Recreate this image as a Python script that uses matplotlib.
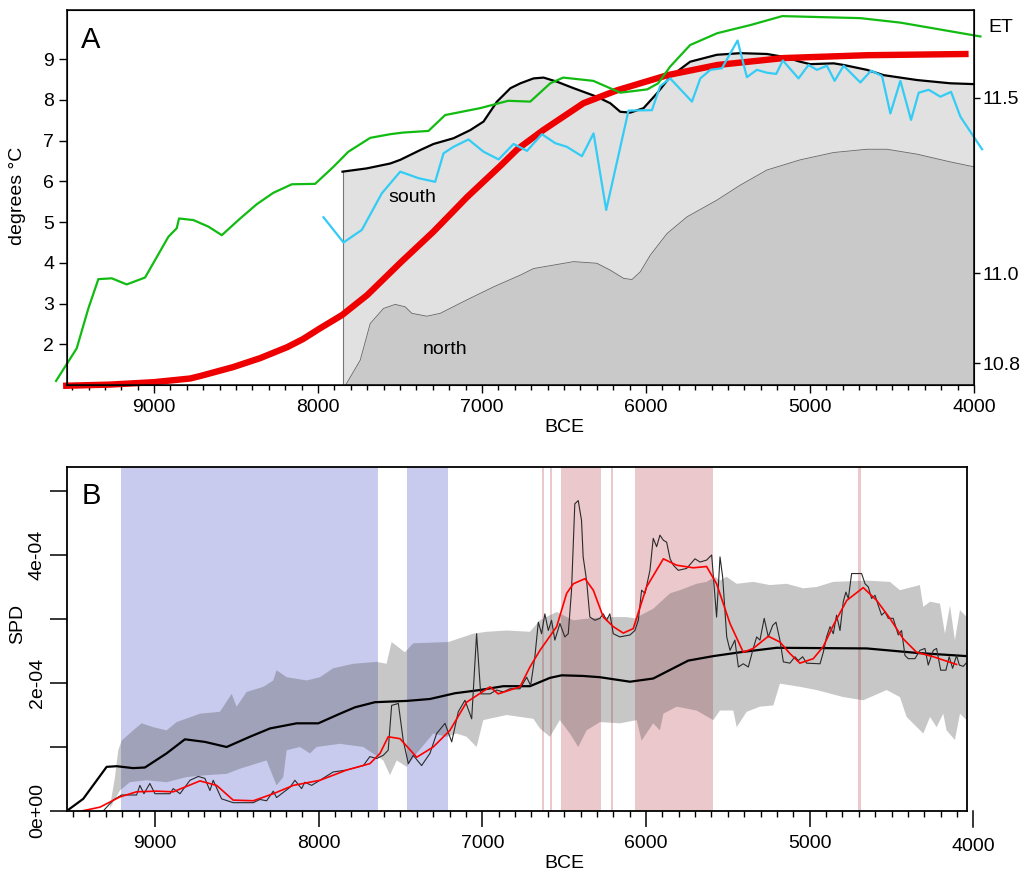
import matplotlib.pyplot as plt
import numpy as np

plt.rcParams['font.family'] = ['Liberation Sans', 'DejaVu Sans']
plt.rcParams['font.size'] = 14

# ---------------- Panel A: temperature reconstructions ----------------
green_yr = [9598, 9472, 9401, 9340, 9258, 9167, 9055, 8913, 8862, 8848, 8760, 8669, 8587,
            8475, 8374, 8273, 8160, 8018, 7906, 7815, 7682, 7560, 7481, 7327, 7225, 7011,
            6841, 6706, 6584, 6505, 6322, 6157, 5993, 5926, 5853, 5731, 5566, 5364, 5169,
            4693, 4449, 3961]
green_t = [1.10, 1.90, 2.88, 3.60, 3.62, 3.47, 3.64, 4.64, 4.85, 5.09, 5.05, 4.89, 4.68,
           5.09, 5.44, 5.72, 5.93, 5.94, 6.36, 6.73, 7.07, 7.16, 7.20, 7.24, 7.63, 7.80,
           7.98, 7.96, 8.41, 8.55, 8.47, 8.18, 8.26, 8.41, 8.82, 9.35, 9.64, 9.84, 10.06,
           10.01, 9.90, 9.56]

south_yr = [7851, 7703, 7560, 7499, 7377, 7296, 7174, 7072, 6991, 6909, 6827, 6766, 6686,
            6625, 6544, 6442, 6300, 6218, 6157, 6096, 6015, 5934, 5853, 5731, 5568, 5425,
            5263, 5161, 5060, 4999, 4856, 4795, 4653, 4551, 4348, 4145, 4002]
south_t = [6.24, 6.32, 6.44, 6.53, 6.77, 6.92, 7.06, 7.26, 7.47, 7.96, 8.29, 8.41, 8.53,
           8.55, 8.45, 8.29, 8.08, 7.92, 7.71, 7.69, 7.80, 8.16, 8.57, 8.94, 9.11, 9.15,
           9.13, 9.06, 8.94, 8.88, 8.90, 8.86, 8.74, 8.61, 8.49, 8.41, 8.39]

north_yr = [7832, 7743, 7682, 7601, 7530, 7469, 7428, 7337, 7255, 7093, 6930, 6766, 6686,
            6442, 6300, 6218, 6137, 6086, 6035, 5974, 5872, 5750, 5568, 5425, 5263, 5060,
            4856, 4653, 4531, 4348, 4145, 4002]
north_t = [1.00, 1.61, 2.51, 2.88, 2.98, 2.92, 2.76, 2.69, 2.76, 3.09, 3.41, 3.70, 3.86,
           4.03, 3.99, 3.82, 3.62, 3.59, 3.78, 4.19, 4.72, 5.13, 5.54, 5.91, 6.28, 6.53,
           6.71, 6.79, 6.79, 6.67, 6.48, 6.36]

cyan_yr = [7967, 7845, 7733, 7611, 7499, 7388, 7286, 7235, 7174, 7083, 6991, 6899, 6808,
           6726, 6635, 6554, 6483, 6391, 6320, 6243, 6107, 5964, 5914, 5853, 5720, 5669,
           5608, 5537, 5442, 5385, 5324, 5263, 5206, 5166, 5070, 5009, 4958, 4897, 4850,
           4795, 4693, 4628, 4561, 4510, 4449, 4384, 4337, 4276, 4205, 4140, 4083, 3951]
cyan_t = [5.12, 4.50, 4.81, 5.71, 6.24, 6.08, 5.99, 6.69, 6.85, 7.03, 6.73, 6.54, 6.92,
          6.75, 7.16, 6.94, 6.85, 6.62, 7.18, 5.30, 7.74, 7.75, 8.34, 8.53, 7.96, 8.53,
          8.74, 8.78, 9.46, 8.56, 8.74, 8.67, 8.64, 8.97, 8.53, 8.86, 8.74, 8.84, 8.47,
          8.84, 8.43, 8.72, 8.59, 7.67, 8.47, 7.51, 8.18, 8.25, 8.08, 8.20, 7.59, 6.79]

et_yr = [9555, 9268, 9000, 8780, 8719, 8518, 8353, 8188, 8091, 7993, 7853, 7700, 7499,
         7298, 7090, 6889, 6785, 6627, 6382, 6175, 5869, 5564, 5161, 4649, 4033]
et_t = [0.98, 1.01, 1.07, 1.16, 1.22, 1.44, 1.66, 1.93, 2.13, 2.38, 2.72, 3.21, 4.00,
        4.76, 5.62, 6.38, 6.79, 7.26, 7.92, 8.24, 8.61, 8.86, 9.03, 9.10, 9.13]

# right-hand ET scale (non-linear), tick positions in °C units of left axis
et_ticks = ['10.8', '11.0', '11.5']
et_pos = [1.53, 3.74, 8.06]

# ---------------- Panel B: SPD ----------------
blue_spans = [(9210, 7636), (7459, 7212)]
red_spans = [(6638, 6626), (6587, 6575), (6520, 6278), (6214, 6202), (6070, 5593), (4707, 4687)]

env_up_yr = [9275, 9244, 9224, 9203, 9133, 9081, 9010, 8929, 8867, 8725, 8603, 8531, 8501,
             8440, 8338, 8277, 8257, 8195, 8073, 7992, 7911, 7789, 7646, 7585, 7554, 7473,
             7422, 7208, 7055, 6974, 6851, 6709, 6648, 6546, 6444, 6343, 6241, 6118, 6068,
             5956, 5854, 5793, 5691, 5630, 5579, 5548, 5508, 5446, 5345, 5243, 5141, 5040,
             4958, 4856, 4653, 4510, 4449, 4327, 4306, 4265, 4204, 4174, 4143, 4113, 4082, 4041]
env_up = [0.06, 0.53, 0.95, 1.10, 1.26, 1.37, 1.31, 1.26, 1.39, 1.52, 1.55, 1.83, 1.63,
          1.86, 1.94, 2.04, 2.20, 2.09, 2.04, 2.09, 2.23, 2.30, 2.33, 2.30, 2.64, 2.48,
          2.62, 2.64, 2.77, 2.80, 2.82, 2.80, 2.98, 3.11, 2.98, 3.01, 3.03, 3.03, 3.01,
          3.16, 3.40, 3.45, 3.55, 3.58, 3.66, 3.60, 3.66, 3.55, 3.58, 3.53, 3.55, 3.48,
          3.50, 3.58, 3.60, 3.58, 3.45, 3.53, 3.19, 3.27, 3.24, 2.77, 3.21, 2.67, 3.14, 3.03]

env_lo_yr = [9275, 9214, 9153, 9051, 8929, 8806, 8684, 8562, 8481, 8318, 8257, 8216, 8195,
             8114, 8053, 8012, 7870, 7727, 7605, 7564, 7523, 7462, 7401, 7300, 7218, 7157,
             7096, 7035, 6994, 6851, 6688, 6648, 6587, 6526, 6465, 6414, 6363, 6281, 6160,
             6057, 6027, 5956, 5915, 5894, 5813, 5691, 5589, 5548, 5467, 5446, 5385, 5304,
             5222, 5182, 5060, 4958, 4795, 4673, 4530, 4449, 4408, 4306, 4265, 4225, 4184,
             4164, 4113, 4082, 4041]
env_lo = [0.04, 0.32, 0.45, 0.48, 0.45, 0.53, 0.56, 0.58, 0.66, 0.79, 0.40, 0.53, 0.95,
          1.00, 0.90, 1.00, 1.05, 1.00, 0.79, 0.56, 0.79, 0.69, 0.90, 1.21, 1.16, 1.21,
          1.16, 1.00, 1.42, 1.50, 1.44, 1.29, 1.16, 1.42, 1.21, 1.00, 1.26, 1.39, 1.37,
          1.42, 1.10, 1.37, 1.26, 1.52, 1.63, 1.57, 1.42, 1.57, 1.57, 1.31, 1.55, 1.63,
          1.65, 1.99, 1.94, 1.89, 1.78, 1.73, 1.89, 1.78, 1.47, 1.21, 1.47, 1.31, 1.52,
          1.26, 1.11, 1.52, 1.42]

null_yr = [9539, 9438, 9295, 9234, 9133, 9061, 8929, 8817, 8695, 8562, 8420, 8297, 8134,
           8002, 7870, 7778, 7656, 7462, 7320, 7167, 7015, 6872, 6709, 6587, 6515, 6384,
           6281, 6098, 5956, 5742, 5589, 5426, 5202, 4652, 4347, 4041]
null_mean = [0.00, 0.19, 0.69, 0.70, 0.67, 0.68, 0.90, 1.12, 1.08, 1.00, 1.16, 1.29, 1.37,
             1.37, 1.52, 1.62, 1.70, 1.72, 1.75, 1.84, 1.89, 1.95, 1.95, 2.08, 2.12, 2.11,
             2.09, 2.02, 2.07, 2.35, 2.42, 2.48, 2.55, 2.54, 2.47, 2.42]

spd_yr = [9316, 9255, 9204, 9112, 9092, 9067, 9031, 9000, 8908, 8888, 8847, 8786, 8735,
          8695, 8664, 8644, 8593, 8522, 8399, 8359, 8318, 8277, 8257, 8175, 8145, 8104,
          8084, 8043, 7992, 7911, 7829, 7727, 7687, 7646, 7605, 7575, 7554, 7513, 7483,
          7452, 7422, 7371, 7320, 7279, 7228, 7187, 7147, 7106, 7065, 7035, 7010, 6953,
          6913, 6872, 6831, 6770, 6729, 6705, 6679, 6658, 6638, 6618, 6597, 6577, 6557,
          6526, 6496, 6475, 6455, 6435, 6414, 6394, 6384, 6363, 6343, 6312, 6282, 6261,
          6241, 6221, 6200, 6160, 6098, 6068, 6047, 6027, 6006, 5976, 5956, 5935, 5915,
          5894, 5874, 5853, 5833, 5803, 5752, 5701, 5670, 5630, 5599, 5579, 5569, 5548,
          5532, 5507, 5487, 5457, 5436, 5406, 5375, 5345, 5324, 5304, 5278, 5253, 5226,
          5206, 5182, 5161, 5121, 5090, 5070, 5043, 5019, 4937, 4917, 4897, 4876, 4856,
          4836, 4815, 4795, 4779, 4764, 4744, 4683, 4662, 4642, 4622, 4601, 4581, 4561,
          4540, 4520, 4490, 4459, 4439, 4418, 4398, 4357, 4327, 4296, 4276, 4245, 4225,
          4200, 4168, 4148, 4127, 4103, 4086, 4062, 4041]
spd = [0.00, 0.17, 0.25, 0.25, 0.40, 0.27, 0.43, 0.27, 0.27, 0.35, 0.27, 0.48, 0.54,
       0.51, 0.32, 0.48, 0.19, 0.13, 0.13, 0.18, 0.16, 0.31, 0.21, 0.37, 0.48, 0.35,
       0.45, 0.40, 0.48, 0.61, 0.64, 0.71, 0.85, 0.82, 0.87, 0.95, 1.65, 1.68, 1.10,
       0.74, 0.87, 0.71, 0.90, 1.21, 1.37, 1.08, 1.55, 1.73, 1.44, 2.77, 1.83, 1.83,
       1.89, 1.86, 1.91, 1.91, 2.09, 1.96, 2.41, 2.95, 2.77, 3.08, 2.82, 2.98, 2.67,
       2.93, 2.72, 2.77, 3.45, 4.80, 4.85, 4.54, 3.97, 3.60, 3.03, 2.98, 3.01, 3.08,
       2.98, 3.08, 2.77, 2.72, 2.75, 2.82, 2.98, 3.45, 3.40, 3.76, 4.26, 4.13, 4.31,
       4.23, 4.20, 3.94, 3.84, 3.76, 3.79, 3.94, 3.89, 3.92, 4.00, 3.34, 3.03, 3.97,
       3.66, 2.72, 2.51, 2.67, 2.25, 2.30, 2.25, 2.54, 2.72, 2.67, 3.01, 2.72, 2.90,
       2.95, 2.67, 2.33, 2.31, 2.41, 2.35, 2.41, 2.31, 2.30, 2.48, 2.72, 2.88, 2.77,
       3.06, 2.82, 3.27, 3.42, 3.32, 3.71, 3.71, 3.55, 3.50, 3.32, 3.37, 3.21, 3.06,
       3.11, 3.01, 3.01, 2.75, 2.82, 2.43, 2.38, 2.38, 2.51, 2.54, 2.28, 2.51, 2.54,
       2.20, 2.20, 2.41, 2.23, 2.43, 2.28, 2.26, 2.32]

smooth_yr = [9448, 9336, 9214, 9112, 8990, 8888, 8725, 8623, 8522, 8399, 8277, 8155, 7992,
             7829, 7687, 7625, 7575, 7503, 7401, 7300, 7198, 7096, 6953, 6903, 6770, 6709,
             6648, 6546, 6485, 6444, 6373, 6322, 6261, 6200, 6139, 6078, 5997, 5894, 5813,
             5711, 5630, 5569, 5487, 5406, 5345, 5253, 5182, 5121, 5060, 4978, 4917, 4856,
             4774, 4673, 4591, 4510, 4429, 4347, 4245, 4103]
smooth = [0.00, 0.06, 0.22, 0.30, 0.31, 0.30, 0.47, 0.40, 0.17, 0.16, 0.27, 0.40, 0.48,
          0.64, 0.74, 0.90, 1.16, 1.13, 0.84, 1.00, 1.26, 1.70, 1.94, 1.83, 1.94, 2.25,
          2.51, 2.88, 3.40, 3.55, 3.63, 3.45, 3.03, 2.88, 2.78, 2.85, 3.50, 3.94, 3.84,
          3.80, 3.82, 3.55, 2.93, 2.48, 2.54, 2.73, 2.64, 2.46, 2.31, 2.38, 2.57, 2.90,
          3.29, 3.49, 3.29, 3.01, 2.69, 2.48, 2.41, 2.29]

scale = 1e-4
W, H = 1028, 873
fig = plt.figure(figsize=(W / 100, H / 100), dpi=100)

# ---- A ----
ax = fig.add_axes([66.7 / W, 1 - 385 / H, (974 - 66.7) / W, (385 - 10) / H])
ax.fill_between(south_yr, south_t, 0, color='#e1e1e1', lw=0)
ax.plot([south_yr[0], south_yr[0]], [0, south_t[0]], color='#777777', lw=0.8)
ax.fill_between(north_yr, north_t, 0, color='#c9c9c9', lw=0)
ax.plot(north_yr, north_t, color='#666666', lw=0.6)
ax.plot(south_yr, south_t, color='black', lw=1.6)
ax.plot(et_yr, et_t, color='#ee0000', lw=4.6, clip_on=False, solid_capstyle='butt',
        solid_joinstyle='round')
ax.plot(cyan_yr, cyan_t, color='#33ccf5', lw=1.6, clip_on=False)
ax.plot(green_yr, green_t, color='#11bb11', lw=1.6, clip_on=False)
ax.set_xlim(9533, 4000)
ax.set_ylim(1.0, 10.21)
ax.set_xticks(range(9000, 3999, -1000))
ax.set_xticks(range(9500, 3999, -100), minor=True)
ax.set_yticks(range(2, 10))
ax.tick_params(axis='x', which='major', length=6, width=1, pad=4)
ax.tick_params(axis='x', which='minor', length=3.6, width=1)
ax.tick_params(axis='y', length=6, width=1, pad=3)
for s in ax.spines.values():
    s.set_linewidth(1.1)
ax.text(0.026, 0.92, 'A', transform=ax.transAxes, fontsize=21, ha='center', va='center')
ax.text(7428, 5.60, 'south', fontsize=14, ha='center', va='center')
ax.text(7229, 1.88, 'north', fontsize=14, ha='center', va='center')

ax2 = ax.twinx()
ax2.set_ylim(ax.get_ylim())
ax2.set_yticks(et_pos, labels=et_ticks)
ax2.tick_params(axis='y', length=4.5, width=1, pad=1.5)

fig.text(1001 / W, 1 - 28 / H, 'ET', fontsize=14, ha='center', va='center')
fig.text(18 / W, 1 - 196 / H, 'degrees °C', fontsize=14, rotation=90, ha='center', va='center')
fig.text(564 / W, 1 - 427 / H, 'BCE', fontsize=14, ha='center', va='center')

# ---- B ----
axb = fig.add_axes([66.7 / W, 1 - 811 / H, (966.7 - 66.7) / W, (811 - 467.3) / H])
for a, b in blue_spans:
    axb.axvspan(a, b, color='#c8cbed', lw=0)
for a, b in red_spans:
    axb.axvspan(a, b, color='#ebc8cc', lw=0)
env_x = np.r_[env_up_yr, env_lo_yr[::-1]]
env_y = np.r_[env_up, env_lo[::-1]] * scale
axb.fill(env_x, env_y, color='#404040', alpha=0.29, lw=0)
axb.plot(null_yr, np.array(null_mean) * scale, color='black', lw=1.6)
axb.plot(spd_yr, np.array(spd) * scale, color='#2a2a2a', lw=0.8)
axb.plot(smooth_yr, np.array(smooth) * scale, color='#ff0000', lw=1.2)
axb.set_xlim(9539, 4041)
axb.set_ylim(0, 5.37e-4)
axb.set_xticks(range(9000, 4999, -1000))
axb.set_xticks(range(9500, 4099, -100), minor=True)
axb.set_yticks(np.arange(6) * scale,
               labels=['0e+00', '', '2e-04', '', '4e-04', ''])
for lbl in axb.get_yticklabels():
    lbl.set_rotation(90)
    lbl.set_va('center')
axb.tick_params(axis='x', which='major', length=11.5, width=1.1, pad=6)
axb.tick_params(axis='x', which='minor', length=4, width=1)
axb.tick_params(axis='y', length=12, width=1.1, pad=3)
for s in axb.spines.values():
    s.set_linewidth(1.3)
# the 4000 tick sits just outside the plotting box
xt = axb.get_xaxis_transform()
axb.plot([4000, 4000], [0, -0.047], transform=xt, color='black', lw=1.1, clip_on=False)
axb.text(4000, -0.102, '4000', transform=xt, ha='center', va='center', fontsize=14)
axb.text(0.027, 0.917, 'B', transform=axb.transAxes, fontsize=21, ha='center', va='center')

fig.text(17.5 / W, 1 - 624 / H, 'SPD', fontsize=14, rotation=90, ha='center', va='center')
fig.text(564 / W, 1 - 864 / H, 'BCE', fontsize=14, ha='center', va='center')

fig.savefig('out.png', dpi=100)
